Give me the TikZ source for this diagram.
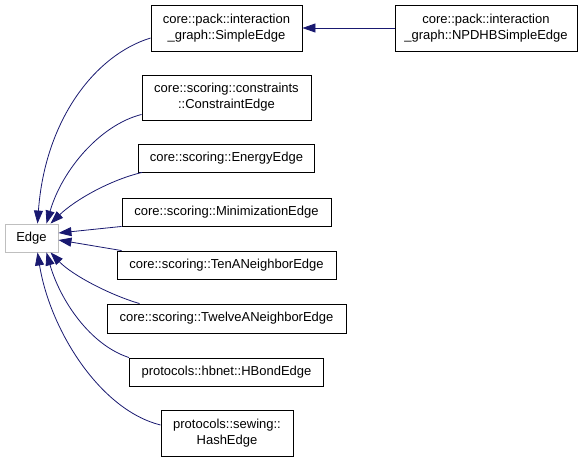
\documentclass[tikz,border=0pt]{standalone}
\usepackage{fontspec}
\setmainfont{Liberation Sans}
\usetikzlibrary{arrows.meta}
\definecolor{navyedge}{HTML}{191970}
\definecolor{greyb}{HTML}{BFBFBF}
\begin{document}
\begin{tikzpicture}[x=1pt,y=-1pt,
  cls/.style={draw=black,line width=0.9pt,rectangle,inner sep=0pt,align=center,
    font=\fontsize{13}{16}\selectfont},
  base/.style={cls,draw=greyb},
  arr/.style={draw=navyedge,line width=0.8pt,-{Triangle[length=13pt,width=9pt]},fill=none},
]
\useasboundingbox (0,0) rectangle (587,461);
\node[base,minimum width=53pt,minimum height=28pt] (e) at (31.5,238) {Edge};
\node[cls,minimum width=151pt,minimum height=46pt] (se) at (226.5,28) {core::pack::interaction\\\_graph::SimpleEdge};
\node[cls,minimum width=182pt,minimum height=46pt] (np) at (486,28) {core::pack::interaction\\\_graph::NPDHBSimpleEdge};
\node[cls,minimum width=169pt,minimum height=45pt] (ce) at (226.5,97.5) {core::scoring::constraints\\::ConstraintEdge};
\node[cls,minimum width=176pt,minimum height=28pt] (en) at (226.5,158) {core::scoring::EnergyEdge};
\node[cls,minimum width=209pt,minimum height=28pt] (mi) at (226.5,212) {core::scoring::MinimizationEdge};
\node[cls,minimum width=219pt,minimum height=28pt] (te) at (226.5,265) {core::scoring::TenANeighborEdge};
\node[cls,minimum width=239pt,minimum height=29pt] (tw) at (226.5,318.5) {core::scoring::TwelveANeighborEdge};
\node[cls,minimum width=194pt,minimum height=28pt] (hb) at (226.5,372) {protocols::hbnet::HBondEdge};
\node[cls,minimum width=132pt,minimum height=46pt] (ha) at (227,433) {protocols::sewing::\\HashEdge};

\draw[arr] (np.west) -- (se.east);
\draw[arr] ([yshift=-10pt]se.west) .. controls (95,55) and (45,120) .. ([xshift=6pt]e.north);
\draw[arr] ([yshift=6pt]ce.south west) .. controls (100,125) and (62,170) .. ([xshift=15pt]e.north);
\draw[arr] ([xshift=4pt]en.south west) .. controls (110,180) and (75,200) .. ([xshift=19pt]e.north);
\draw[arr] (mi.south west) -- ([yshift=5pt]e.east);
\draw[arr] ([xshift=5pt]te.north west) -- ([yshift=-2pt]e.east);
\draw[arr] ([xshift=33pt]tw.north west) .. controls (110,295) and (72,275) .. ([xshift=19pt]e.south);
\draw[arr] (hb.north west) .. controls (90,345) and (60,300) .. ([xshift=15pt]e.south);
\draw[arr] ([yshift=8pt]ha.west) .. controls (100,410) and (50,330) .. ([xshift=6pt]e.south);
\end{tikzpicture}
\end{document}
